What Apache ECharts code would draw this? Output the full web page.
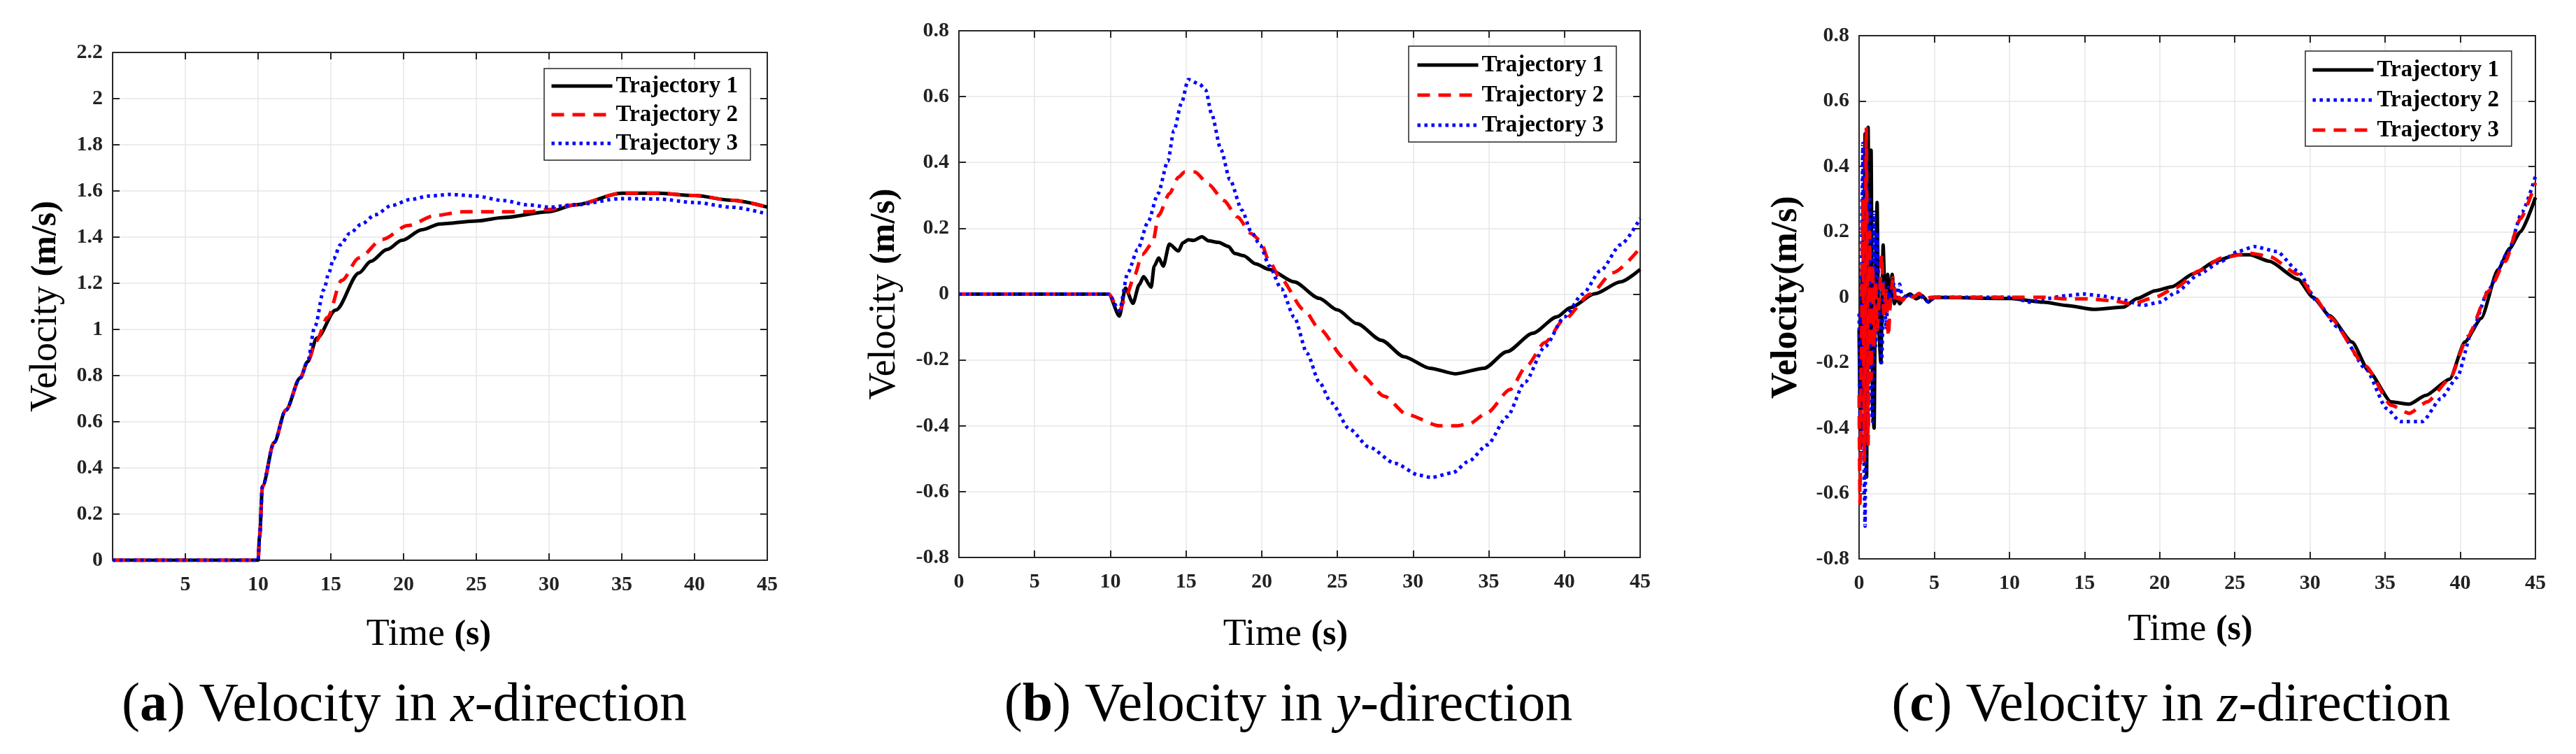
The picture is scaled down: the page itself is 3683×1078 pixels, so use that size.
<!DOCTYPE html>
<html><head><meta charset="utf-8">
<script src="https://cdn.jsdelivr.net/npm/echarts@6/dist/echarts.min.js"></script>
<style>html,body{margin:0;padding:0;background:#fff}#c{width:3683px;height:1078px}</style>
</head><body><div id="c"></div>
<script>
// ================= DATA =================
const timeTicks = [0, 5, 10, 15, 20, 25, 30, 35, 40, 45];
const vxTicks = [0, 0.2, 0.4, 0.6, 0.8, 1, 1.2, 1.4, 1.6, 1.8, 2, 2.2];
const vyTicks = [-0.8, -0.6, -0.4, -0.2, 0, 0.2, 0.4, 0.6, 0.8];
const vzTicks = [-0.8, -0.6, -0.4, -0.2, 0, 0.2, 0.4, 0.6, 0.8];
const legendNames = ['Trajectory 1', 'Trajectory 2', 'Trajectory 3'];

// (a) velocity in x-direction
const vxTime1 = [0, 5, 9.9, 10, 10.1, 10.3, 11.1, 11.9, 12.9, 13.4, 14.05, 15.34, 16.94, 17.74, 18.86, 19.9, 21.26, 22.5, 25.0, 26.9, 30, 31.8, 35, 37.5, 40, 42.5, 45];
const vxTraj1 = [0, 0, 0, 0, 0.1, 0.32, 0.51, 0.65, 0.79, 0.86, 0.963, 1.084, 1.245, 1.295, 1.346, 1.386, 1.432, 1.457, 1.47, 1.485, 1.51, 1.54, 1.59, 1.59, 1.58, 1.56, 1.53];
const vxTime2 = [0, 5, 9.9, 10, 10.1, 10.3, 11.1, 11.9, 12.9, 13.4, 14.0, 14.77, 15.74, 16.94, 18.54, 20.3, 22.2, 24.1, 26.5, 28.5, 30, 31.8, 35, 37.5, 40, 42.5, 45];
const vxTraj2 = [0, 0, 0, 0, 0.1, 0.32, 0.51, 0.65, 0.79, 0.86, 0.95, 1.052, 1.212, 1.31, 1.39, 1.45, 1.494, 1.51, 1.51, 1.51, 1.52, 1.54, 1.59, 1.59, 1.58, 1.56, 1.53];
const vxTime3 = [0, 5, 9.9, 10, 10.1, 10.3, 11.1, 11.9, 12.9, 13.4, 13.9, 14.53, 14.86, 15.18, 15.66, 16.3, 17.1, 18.06, 19.18, 20.47, 21.75, 23.2, 24.95, 26.9, 28.5, 30, 31.8, 35, 37.5, 40, 42.5, 45];
const vxTraj3 = [0, 0, 0, 0, 0.1, 0.32, 0.51, 0.65, 0.79, 0.86, 1.012, 1.173, 1.245, 1.305, 1.367, 1.416, 1.456, 1.497, 1.537, 1.563, 1.578, 1.585, 1.578, 1.558, 1.54, 1.53, 1.54, 1.567, 1.565, 1.55, 1.53, 1.50];

// (b) velocity in y-direction
const vyTime1 = [0, 5, 9.9, 10.6, 11.0, 11.5, 11.9, 12.2, 12.7, 12.9, 13.2, 13.5, 13.9, 14.5, 14.8, 15.15, 15.5, 16.05, 16.5, 17.15, 17.8, 18.2, 18.8, 19.6, 20.5, 22.15, 23.8, 25, 26.3, 27.9, 29.4, 31.1, 32.8, 34.7, 36.2, 37.9, 39.5, 40.4, 42.0, 43.7, 45];
const vyTraj1 = [0, 0, 0, -0.067, 0.018, -0.028, 0.028, 0.053, 0.021, 0.085, 0.11, 0.085, 0.152, 0.131, 0.156, 0.165, 0.163, 0.174, 0.162, 0.157, 0.145, 0.124, 0.117, 0.092, 0.075, 0.037, -0.013, -0.048, -0.09, -0.14, -0.19, -0.225, -0.242, -0.225, -0.175, -0.119, -0.069, -0.041, 0.001, 0.037, 0.075];
const vyTime2 = [0, 5, 9.9, 10.6, 11.1, 11.6, 12.1, 12.8, 13.2, 13.9, 14.5, 14.9, 15.6, 16.5, 17.5, 18.4, 19.3, 19.9, 20.5, 21.2, 22.8, 23.8, 25.5, 26.6, 28.1, 29.6, 31.75, 32.9, 33.7, 34.9, 36.4, 37.5, 38.7, 40.0, 41.7, 43.2, 45];
const vyTraj2 = [0, 0, 0, -0.05, 0.0, 0.057, 0.12, 0.156, 0.24, 0.305, 0.355, 0.371, 0.371, 0.333, 0.284, 0.234, 0.184, 0.163, 0.099, 0.05, -0.048, -0.105, -0.196, -0.246, -0.31, -0.366, -0.40, -0.40, -0.394, -0.36, -0.29, -0.218, -0.147, -0.076, 0.0, 0.065, 0.14];
const vyTime3 = [0, 5, 9.9, 10.6, 11.15, 11.8, 12.5, 13.15, 13.8, 14.2, 14.7, 15.15, 15.9, 16.3, 16.7, 17.3, 17.9, 18.7, 19.3, 19.9, 20.5, 21.3, 22.15, 23.0, 23.8, 24.6, 25.8, 27.1, 28.8, 30.4, 31.2, 32.6, 33.7, 34.9, 36.2, 37.4, 38.7, 40.0, 41.2, 42.4, 43.7, 45];
const vyTraj3 = [0, 0, 0, -0.05, 0.064, 0.135, 0.22, 0.305, 0.404, 0.496, 0.58, 0.652, 0.638, 0.62, 0.546, 0.44, 0.348, 0.255, 0.19, 0.149, 0.086, 0.016, -0.07, -0.18, -0.267, -0.33, -0.41, -0.465, -0.514, -0.55, -0.557, -0.543, -0.507, -0.458, -0.373, -0.267, -0.16, -0.069, 0.0, 0.072, 0.15, 0.23];

// (c) velocity in z-direction
const vzTime1 = [0, 0.1, 0.2, 0.3, 0.4, 0.5, 0.6, 0.7, 0.8, 0.9, 1.0, 1.1, 1.2, 1.3, 1.45, 1.6, 1.75, 1.9, 2.05, 2.2, 2.35, 2.5, 2.7, 3.0, 3.4, 3.8, 4.2, 4.6, 5.0, 10.1, 12.3, 13.8, 15.6, 17.6, 18.5, 19.7, 20.8, 22.3, 23.7, 25.1, 26.0, 27.3, 29.2, 30.2, 31.3, 32.8, 33.9, 35.4, 36.6, 37.7, 39.3, 40.3, 41.4, 42.5, 43.3, 44.0, 45];
const vzTraj1 = [-0.1, -0.45, 0.1, -0.3, 0.5, -0.55, 0.52, -0.2, 0.45, -0.35, -0.4, 0.1, 0.29, -0.1, -0.2, 0.16, -0.05, 0.07, -0.03, 0.07, -0.02, 0.0, -0.02, 0.0, 0.01, -0.005, 0.005, -0.015, 0.0, -0.004, -0.015, -0.025, -0.037, -0.03, -0.004, 0.02, 0.032, 0.073, 0.11, 0.13, 0.13, 0.11, 0.055, 0.0, -0.056, -0.137, -0.225, -0.32, -0.327, -0.30, -0.25, -0.137, -0.064, 0.084, 0.15, 0.20, 0.305];
const vzTime2 = [0, 0.1, 0.2, 0.25, 0.35, 0.4, 0.5, 0.6, 0.7, 0.8, 0.9, 1.0, 1.1, 1.2, 1.35, 1.5, 1.65, 1.8, 1.95, 2.1, 2.3, 2.5, 2.7, 2.9, 3.2, 3.6, 4.0, 4.4, 4.7, 5.0, 10, 11.4, 12.3, 13.8, 14.9, 16.0, 17.3, 18.9, 20.0, 21.1, 22.6, 24.1, 25.2, 26.3, 27.8, 29.2, 30.5, 31.8, 33.7, 35.1, 36.0, 37.5, 38.7, 39.8, 40.8, 41.9, 43.2, 44.1, 45];
const vzTraj2 = [-0.05, -0.5, 0.3, 0.47, -0.6, -0.7, 0.45, -0.4, 0.3, -0.3, -0.38, 0.26, -0.15, 0.2, -0.05, -0.2, 0.05, -0.1, 0.03, -0.02, 0.04, 0.0, 0.04, -0.01, 0.01, 0.0, 0.01, -0.01, -0.015, 0.0, 0.0, -0.015, -0.005, 0.005, 0.01, 0.005, -0.005, -0.025, -0.015, 0.015, 0.07, 0.11, 0.14, 0.155, 0.14, 0.08, -0.015, -0.09, -0.218, -0.34, -0.38, -0.38, -0.31, -0.245, -0.1, 0.025, 0.14, 0.26, 0.37];
const vzTime3 = [0, 0.06, 0.15, 0.25, 0.35, 0.48, 0.6, 0.7, 0.8, 0.9, 1.0, 1.1, 1.2, 1.35, 1.5, 1.65, 1.8, 1.95, 2.1, 2.26, 2.45, 2.65, 2.9, 3.2, 3.6, 4.0, 4.4, 4.8, 5.0, 10, 12.3, 13.8, 15.3, 16.7, 18.2, 19.7, 21.1, 22.6, 24.1, 26.0, 27.3, 29.2, 30.3, 31.3, 33.7, 35.4, 36.6, 37.8, 39.3, 40.5, 41.9, 43.0, 44.0, 45];
const vzTraj3 = [-0.3, -0.63, -0.2, 0.3, -0.5, 0.52, -0.45, 0.2, -0.25, 0.1, -0.15, 0.05, -0.1, 0.0, 0.13, -0.05, 0.02, -0.12, 0.0, 0.06, -0.02, 0.0, -0.01, 0.01, 0.0, 0.012, -0.005, 0.0, 0.0, 0.0, 0.0, -0.005, -0.005, -0.01, -0.02, 0.0, 0.03, 0.08, 0.12, 0.135, 0.125, 0.07, 0.0, -0.06, -0.21, -0.33, -0.355, -0.32, -0.25, -0.12, 0.02, 0.11, 0.24, 0.35];

// ================= BUILD =================
const pair = (ts, vs) => ts.map((t, i) => [t, vs[i]]);
const step = ticks => Math.round((ticks[1] - ticks[0]) * 1e6) / 1e6;
const SERIF = 'Liberation Serif';
const AX = '#262626';
const LW = 5;
const sty = {
  k: { color: '#000000', type: 'solid' },
  r: { color: '#ff0000', type: [18, 12] },
  b: { color: '#0000ff', type: [4.5, 5.5] }
};

const panels = [
  { grid: { left: 161, top: 75, width: 936, height: 726 }, yTicks: vxTicks, hideZero: true,
    lines: [[vxTime1, vxTraj1, 'k'], [vxTime2, vxTraj2, 'r'], [vxTime3, vxTraj3, 'b']],
    legend: { left: 778, top: 98, padding: [8, 18, 7, 8], itemGap: 7 },
    yName: '{r|Velocity }{b|(m/s)}', yGap: 65, xGap: 77, xPad: 32, smooth: 0.3,
    cap: { x: 578, text: '{n|(}{b|a}{n|) Velocity in }{i|x}{n|-direction}' } },
  { grid: { left: 1371, top: 44, width: 974, height: 753 }, yTicks: vyTicks, hideZero: false,
    lines: [[vyTime1, vyTraj1, 'k'], [vyTime2, vyTraj2, 'r'], [vyTime3, vyTraj3, 'b']],
    legend: { left: 2014, top: 66, padding: [10, 18, 7, 10], itemGap: 9 },
    yName: '{r|Velocity }{b|(m/s)}', yGap: 76, xGap: 81, xPad: 40, smooth: 0.25,
    cap: { x: 1842, text: '{n|(}{b|b}{n|) Velocity in }{i|y}{n|-direction}' } },
  { grid: { left: 2658, top: 51, width: 967, height: 748 }, yTicks: vzTicks, hideZero: false,
    lines: [[vzTime1, vzTraj1, 'k'], [vzTime2, vzTraj2, 'b'], [vzTime3, vzTraj3, 'r']],
    legend: { left: 3296, top: 73, padding: [10, 18, 6, 8], itemGap: 9 },
    yName: '{b|Velocity(m/s)}', yGap: 73, xGap: 72, xPad: 20, smooth: 0.2,
    cap: { x: 3104, text: '{n|(}{b|c}{n|) Velocity in }{i|z}{n|-direction}' } }
];

const nameRich = {
  r: { fontFamily: SERIF, fontSize: 54, fontWeight: 'normal', color: '#000', lineHeight: 60 },
  b: { fontFamily: SERIF, fontSize: 50, fontWeight: 'bold', color: '#000', lineHeight: 60 }
};
const nameRichC = {
  b: { fontFamily: SERIF, fontSize: 52, fontWeight: 'bold', color: '#000', lineHeight: 60 }
};
const CAP = 78;

const grids = [], xAxes = [], yAxes = [], series = [], legends = [], graphics = [];
panels.forEach((p, i) => {
  grids.push(Object.assign({ containLabel: false }, p.grid));
  const tickCommon = { show: true, inside: true, length: 10, lineStyle: { color: AX, width: 2 } };
  const lineCommon = { show: true, onZero: false, lineStyle: { color: AX, width: 2 } };
  const xBase = { type: 'value', gridIndex: i, min: timeTicks[0], max: timeTicks[timeTicks.length - 1], interval: step(timeTicks) };
  const yBase = { type: 'value', gridIndex: i, min: p.yTicks[0], max: p.yTicks[p.yTicks.length - 1], interval: step(p.yTicks) };
  xAxes.push(Object.assign({}, xBase, {
    position: 'bottom', axisLine: lineCommon, axisTick: tickCommon,
    splitLine: { show: true, lineStyle: { color: '#e6e6e6', width: 1.5 } },
    axisLabel: { fontFamily: SERIF, fontWeight: 'bold', fontSize: 30, color: '#222', margin: 20,
      formatter: v => (p.hideZero && v === 0) ? '' : String(v) },
    name: '{r|Time }{b|(s)}', nameLocation: 'middle', nameGap: p.xGap,
    nameTextStyle: { rich: nameRich, padding: [0, p.xPad, 0, 0] }
  }));
  xAxes.push(Object.assign({}, xBase, {
    position: 'top', axisLine: lineCommon, axisTick: tickCommon,
    splitLine: { show: false }, axisLabel: { show: false }
  }));
  yAxes.push(Object.assign({}, yBase, {
    position: 'left', axisLine: lineCommon, axisTick: tickCommon,
    splitLine: { show: true, lineStyle: { color: '#e6e6e6', width: 1.5 } },
    axisLabel: { fontFamily: SERIF, fontWeight: 'bold', fontSize: 30, color: '#222', margin: 14 },
    name: p.yName, nameLocation: 'middle', nameGap: p.yGap,
    nameTextStyle: { rich: i === 2 ? nameRichC : nameRich }
  }));
  yAxes.push(Object.assign({}, yBase, {
    position: 'right', axisLine: lineCommon, axisTick: tickCommon,
    splitLine: { show: false }, axisLabel: { show: false }
  }));
  const names = [];
  p.lines.forEach((ln, k) => {
    const nm = legendNames[k] + '|' + i;
    names.push(nm);
    const s = sty[ln[2]];
    series.push({
      type: 'line', name: nm, xAxisIndex: i * 2, yAxisIndex: i * 2,
      data: pair(ln[0], ln[1]), symbol: 'none', showSymbol: false,
      smooth: p.smooth, smoothMonotone: 'x',
      lineStyle: { width: LW, color: s.color, type: s.type, cap: 'butt' },
      itemStyle: { color: s.color }, z: 3 + k
    });
  });
  legends.push(Object.assign({
    orient: 'vertical', data: names, selectedMode: false,
    itemWidth: 87, itemHeight: 14,
    backgroundColor: '#ffffff', borderColor: AX, borderWidth: 1.5,
    lineStyle: { width: LW },
    itemStyle: { opacity: 0, borderWidth: 0 },
    formatter: n => n.split('|')[0],
    textStyle: { fontFamily: SERIF, fontWeight: 'bold', fontSize: 33, color: '#000', lineHeight: 34 },
    z: 10
  }, p.legend));
  graphics.push({
    type: 'text', x: p.cap.x, y: 1010, z: 10,
    style: {
      text: p.cap.text, align: 'center', verticalAlign: 'middle',
      fontFamily: SERIF, fontSize: CAP, fill: '#000',
      rich: {
        n: { fontFamily: SERIF, fontSize: CAP, fontWeight: 'normal', fontStyle: 'normal' },
        b: { fontFamily: SERIF, fontSize: CAP, fontWeight: 'bold', fontStyle: 'normal' },
        i: { fontFamily: SERIF, fontSize: CAP, fontWeight: 'normal', fontStyle: 'italic' }
      }
    }
  });
});

const chart = echarts.init(document.getElementById('c'), null, { renderer: 'canvas' });
chart.setOption({
  animation: false,
  backgroundColor: '#ffffff',
  grid: grids, xAxis: xAxes, yAxis: yAxes, series: series,
  legend: legends, graphic: graphics
});
</script></body></html>
